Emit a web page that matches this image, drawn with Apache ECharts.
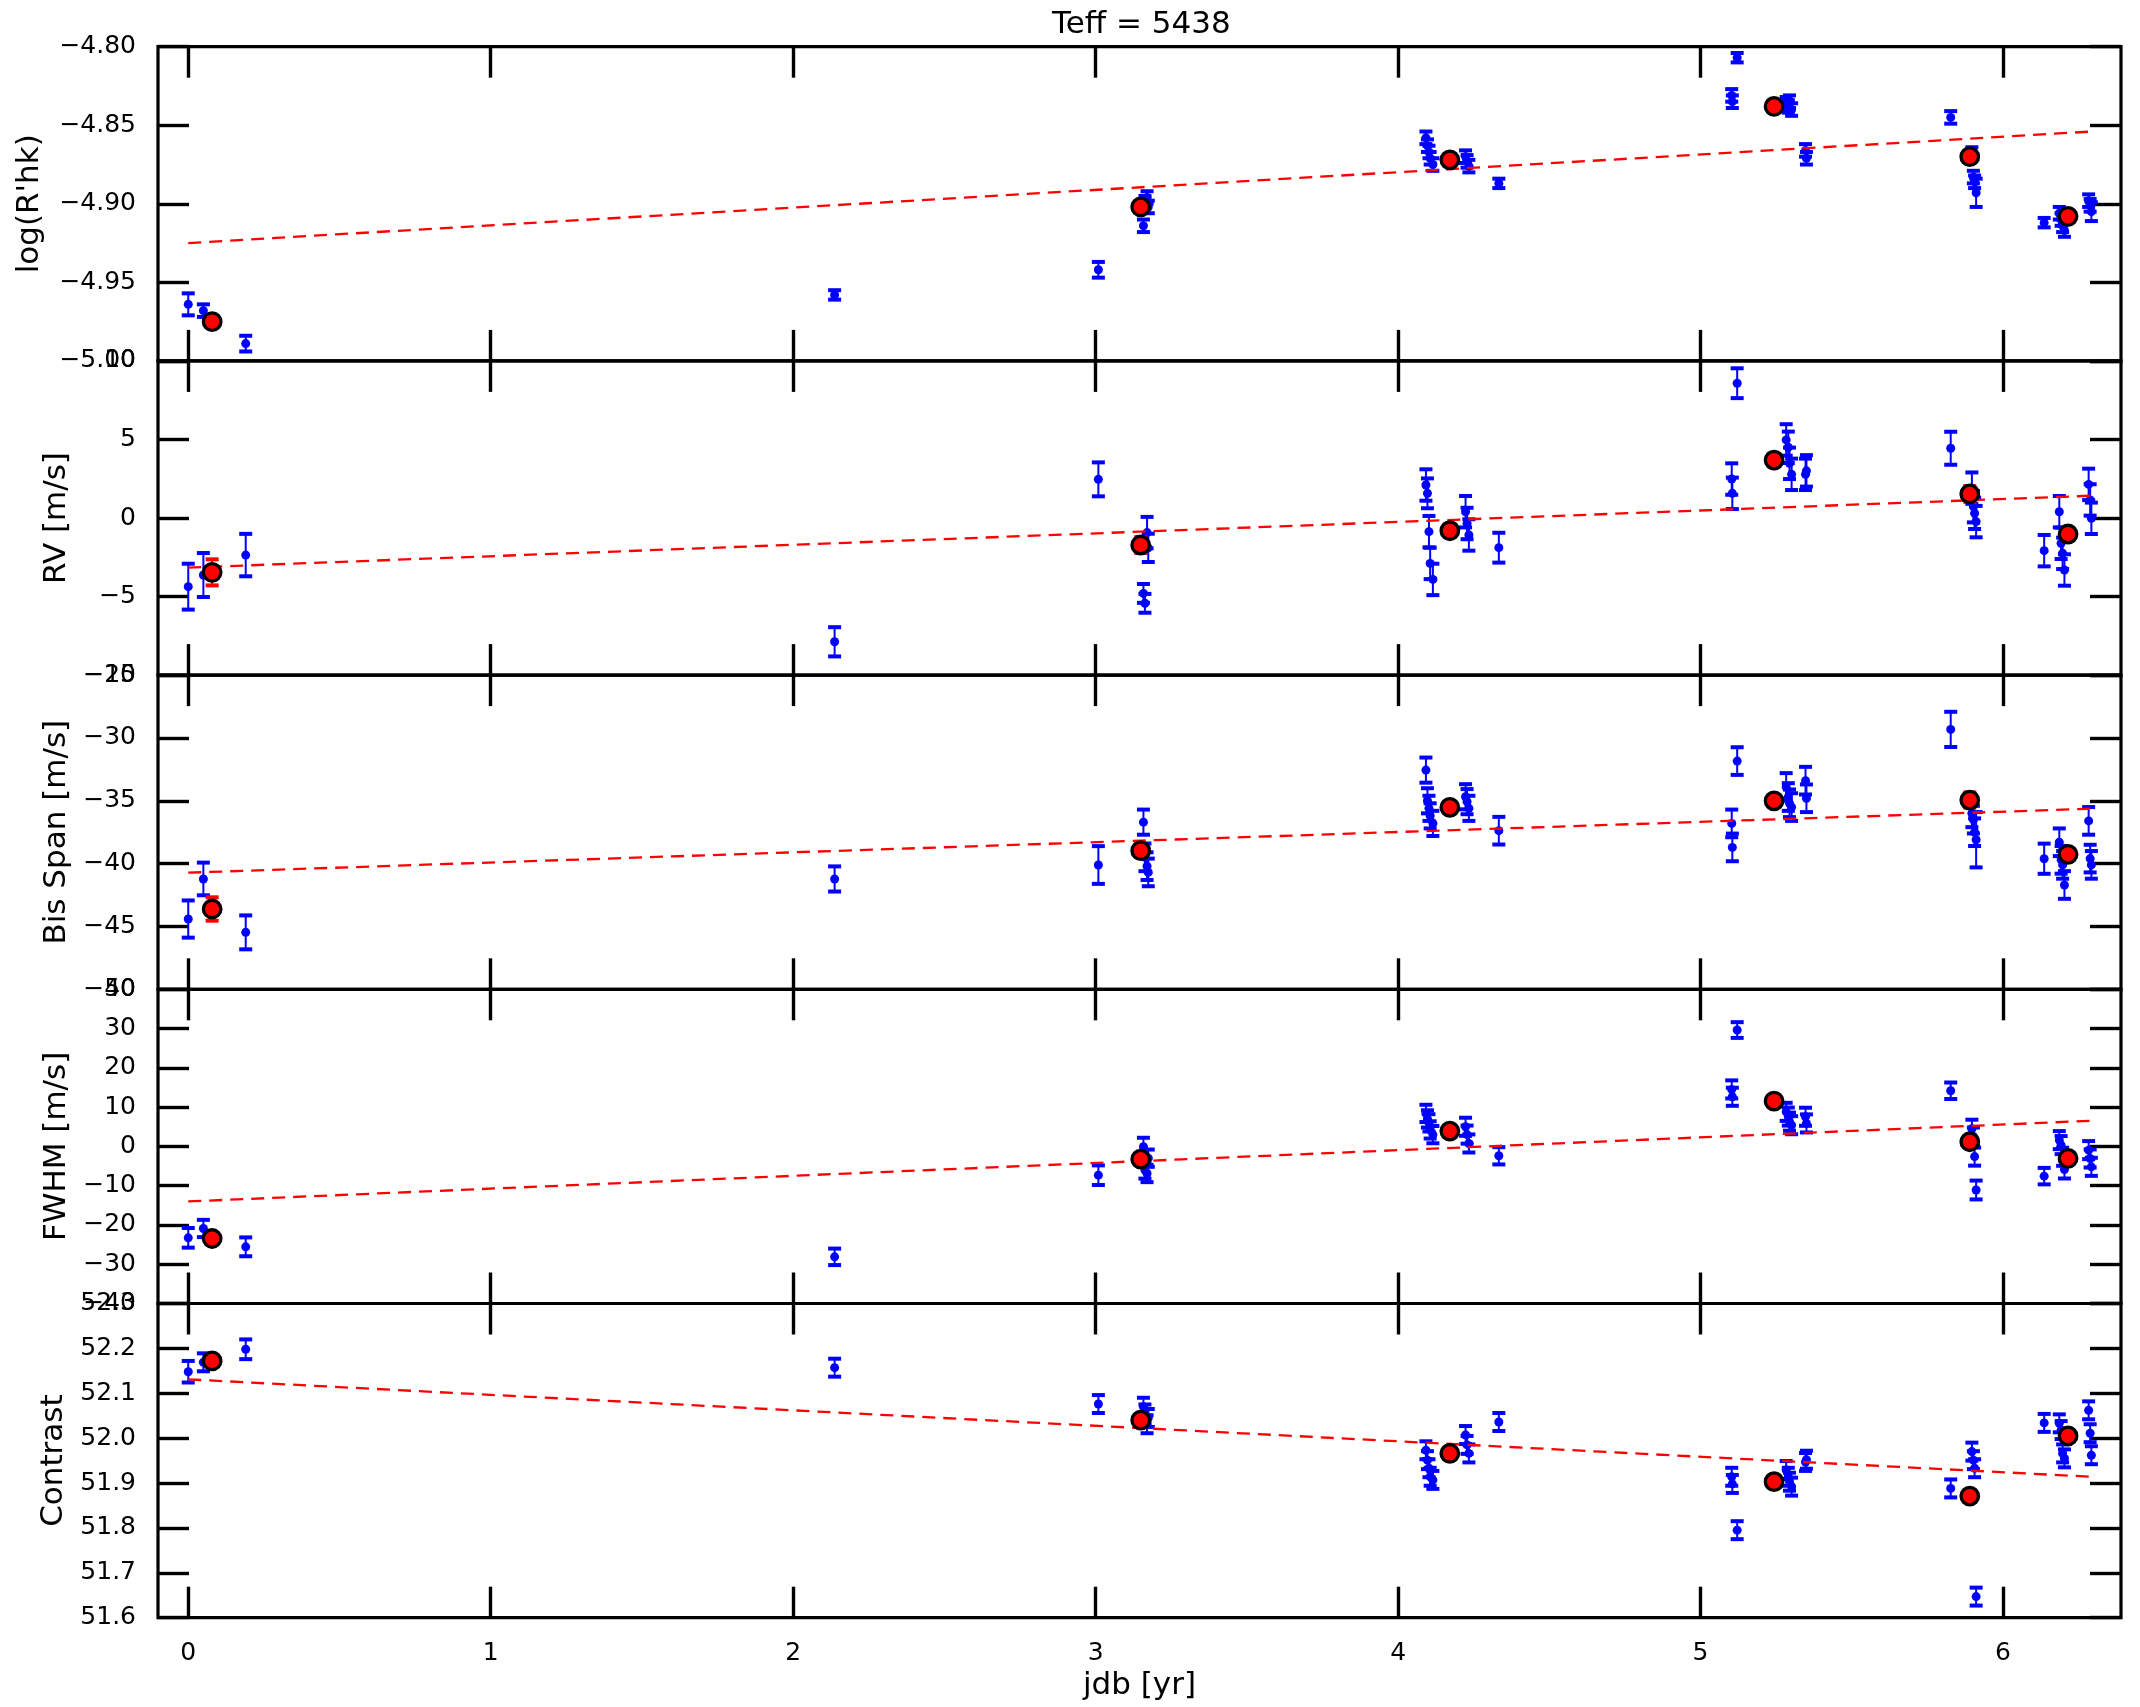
<!DOCTYPE html>
<html><head><meta charset="utf-8">
<script src="https://cdn.jsdelivr.net/npm/echarts@6/dist/echarts.min.js"></script>
<style>html,body{margin:0;padding:0;background:#fff}#c{width:2140px;height:1707px}</style>
</head><body><div id="c"></div>
<script>
const titleText = 'Teff = 5438';
const xLabel = 'jdb [yr]';
const yLabels = ["log(R'hk)", 'RV [m/s]', 'Bis Span [m/s]', 'FWHM [m/s]', 'Contrast'];
const xTicks = [0, 1, 2, 3, 4, 5, 6];

const times = [0.000, 0.050, 0.190, 2.137, 3.009, 3.158, 3.163, 3.170, 3.174, 4.092, 4.097, 4.102, 4.106, 4.115, 4.223, 4.228, 4.234, 4.333, 5.103, 5.105, 5.121, 5.283, 5.290, 5.294, 5.301, 5.347, 5.350, 5.827, 5.897, 5.902, 5.906, 5.911, 6.136, 6.186, 6.192, 6.197, 6.203, 6.283, 6.288, 6.292];
const binTimes = [0.079, 3.149, 4.171, 5.243, 5.890, 6.215];
const trendTimes = [0, 6.292];

// log(R'hk)
const rhkTicks = [-5.00, -4.95, -4.90, -4.85, -4.80];
const rhk = [-4.964, -4.968, -4.989, -4.958, -4.942, -4.914, -4.899, -4.896, -4.902, -4.858, -4.863, -4.867, -4.871, -4.875, -4.870, -4.873, -4.876, -4.887, -4.831, -4.835, -4.807, -4.836, -4.838, -4.835, -4.840, -4.866, -4.871, -4.845, -4.868, -4.883, -4.886, -4.893, -4.912, -4.906, -4.910, -4.914, -4.917, -4.898, -4.901, -4.905];
const rhkErr = [0.007, 0.004, 0.005, 0.003, 0.005, 0.004, 0.004, 0.004, 0.004, 0.004, 0.004, 0.004, 0.004, 0.004, 0.004, 0.004, 0.004, 0.003, 0.004, 0.004, 0.003, 0.004, 0.004, 0.004, 0.004, 0.004, 0.004, 0.004, 0.004, 0.004, 0.004, 0.009, 0.003, 0.004, 0.004, 0.004, 0.004, 0.004, 0.004, 0.006];
const rhkBin = [-4.975, -4.902, -4.872, -4.838, -4.870, -4.908];
const rhkBinErr = [0.003, 0.002, 0.002, 0.002, 0.002, 0.002];
const rhkTrend = [-4.925, -4.854];

// RV
const rvTicks = [-10, -5, 0, 5, 10];
const rv = [-4.37, -3.63, -2.36, -7.88, 2.46, -4.80, -5.43, -0.93, -1.90, 2.10, 1.57, -0.87, -2.89, -3.91, 0.40, -0.35, -1.08, -1.89, 2.48, 1.57, 8.58, 4.97, 4.50, 3.48, 2.78, 2.78, 3.00, 4.44, 1.90, 0.72, 0.30, -0.23, -2.08, 0.40, -1.61, -2.25, -3.31, 2.14, 1.15, -0.02];
const rvErr = [1.46, 1.40, 1.35, 0.93, 1.08, 0.60, 0.60, 1.00, 0.90, 1.00, 0.95, 1.00, 1.00, 1.00, 1.00, 1.00, 1.00, 0.95, 1.00, 1.00, 0.95, 1.00, 1.00, 1.00, 1.00, 1.00, 1.00, 1.05, 1.00, 1.00, 1.00, 1.00, 1.00, 1.00, 1.00, 1.00, 1.00, 1.00, 1.00, 1.00];
const rvBin = [-3.46, -1.72, -0.81, 3.69, 1.53, -1.02];
const rvBinErr = [0.83, 0.5, 0.4, 0.4, 0.5, 0.4];
const rvTrend = [-3.16, 1.42];

// Bisector span
const bisTicks = [-50, -45, -40, -35, -30, -25];
const bis = [-44.41, -41.22, -45.47, -41.22, -40.11, -36.70, -39.50, -40.20, -40.70, -32.56, -35.00, -35.60, -36.20, -36.80, -34.68, -35.07, -35.60, -37.38, -36.80, -38.71, -31.84, -33.90, -34.70, -35.20, -35.50, -33.40, -34.80, -29.32, -36.00, -36.50, -37.50, -38.10, -39.61, -38.30, -39.70, -40.10, -41.70, -36.60, -39.60, -40.10];
const bisErr = [1.48, 1.30, 1.35, 1.00, 1.50, 1.00, 1.10, 1.10, 1.10, 1.00, 1.00, 1.00, 1.00, 1.00, 1.00, 1.00, 1.00, 1.10, 1.10, 1.10, 1.10, 1.10, 1.10, 1.10, 1.10, 1.10, 1.10, 1.40, 1.10, 1.10, 1.10, 2.20, 1.20, 1.10, 1.10, 1.10, 1.10, 1.10, 1.10, 1.10];
const bisBin = [-43.61, -38.97, -35.52, -35.00, -34.94, -39.26];
const bisBinErr = [0.93, 0.5, 0.4, 0.4, 0.6, 0.4];
const bisTrend = [-40.72, -35.63];

// FWHM
const fwhmTicks = [-40, -30, -20, -10, 0, 10, 20, 30, 40];
const fwhm = [-23.28, -20.90, -25.57, -28.12, -7.33, -0.10, -6.00, -6.90, -3.00, 8.40, 7.00, 6.00, 4.20, 3.00, 5.00, 3.00, 0.75, -2.39, 14.51, 12.64, 29.63, 8.80, 7.60, 6.30, 5.40, 7.55, 5.85, 14.17, 4.50, 2.50, -2.60, -11.10, -7.57, 1.60, 0.33, -2.64, -5.87, -0.95, -3.07, -5.20];
const fwhmErr = [2.5, 2.2, 2.4, 2.1, 2.5, 2.3, 2.2, 2.2, 2.2, 2.2, 2.2, 2.2, 2.2, 2.2, 2.3, 2.3, 2.3, 2.2, 2.3, 2.3, 2.0, 2.3, 2.3, 2.3, 2.3, 2.3, 2.3, 2.1, 2.3, 2.3, 2.3, 2.4, 2.1, 2.3, 2.3, 2.3, 2.3, 2.3, 2.3, 2.3];
const fwhmBin = [-23.45, -3.25, 3.90, 11.54, 1.18, -3.07];
const fwhmBinErr = [1.2, 1.0, 0.8, 0.8, 1.0, 0.8];
const fwhmTrend = [-14.02, 6.53];

// Contrast
const conTicks = [51.6, 51.7, 51.8, 51.9, 52.0, 52.1, 52.2, 52.3];
const con = [52.148, 52.169, 52.198, 52.157, 52.076, 52.070, 52.055, 52.031, 52.045, 51.973, 51.951, 51.933, 51.914, 51.907, 52.007, 51.985, 51.966, 52.036, 51.914, 51.898, 51.795, 51.929, 51.914, 51.903, 51.892, 51.947, 51.952, 51.888, 51.970, 51.951, 51.933, 51.647, 52.034, 52.033, 52.018, 51.966, 51.955, 52.062, 52.011, 51.962];
const conErr = [0.024, 0.020, 0.022, 0.020, 0.020, 0.020, 0.020, 0.020, 0.020, 0.020, 0.020, 0.020, 0.020, 0.020, 0.020, 0.020, 0.020, 0.020, 0.020, 0.020, 0.020, 0.020, 0.020, 0.020, 0.020, 0.020, 0.020, 0.020, 0.020, 0.020, 0.020, 0.020, 0.020, 0.020, 0.020, 0.020, 0.020, 0.020, 0.020, 0.020];
const conBin = [52.172, 52.040, 51.966, 51.903, 51.871, 52.005];
const conBinErr = [0.008, 0.006, 0.005, 0.005, 0.006, 0.005];
const conTrend = [52.131, 51.914];

const panels = [
  {ticks: rhkTicks, vals: rhk, err: rhkErr, bin: rhkBin, binErr: rhkBinErr, trend: rhkTrend, dec: 2, gap: 113},
  {ticks: rvTicks, vals: rv, err: rvErr, bin: rvBin, binErr: rvBinErr, trend: rvTrend, dec: 0, gap: 86},
  {ticks: bisTicks, vals: bis, err: bisErr, bin: bisBin, binErr: bisBinErr, trend: bisTrend, dec: 0, gap: 86},
  {ticks: fwhmTicks, vals: fwhm, err: fwhmErr, bin: fwhmBin, binErr: fwhmBinErr, trend: fwhmTrend, dec: 0, gap: 86},
  {ticks: conTicks, vals: con, err: conErr, bin: conBin, binErr: conBinErr, trend: conTrend, dec: 1, gap: 86}
];

const FONT = 'DejaVu Sans';
const gridTop = 46.7, gridH = 314.2, gridLeft = 158, gridRight = 19;
const X_MIN = -0.1, X_MAX = 6.39;

function fmt(v, dec) {
  const s = Math.abs(v).toFixed(dec);
  return (v < 0 && parseFloat(s) !== 0 ? '\u2212' : '') + s;
}

function errRenderer(color) {
  return function (params, api) {
    const x = api.value(0), y = api.value(1), e = api.value(2);
    const a = api.coord([x, y + e]);
    const b = api.coord([x, y - e]);
    const hw = 6.5;
    return {
      type: 'group',
      children: [
        {type: 'line', shape: {x1: a[0], y1: a[1], x2: b[0], y2: b[1]}, style: {stroke: color, lineWidth: 2}},
        {type: 'line', shape: {x1: a[0] - hw, y1: a[1], x2: a[0] + hw, y2: a[1]}, style: {stroke: color, lineWidth: 4}},
        {type: 'line', shape: {x1: b[0] - hw, y1: b[1], x2: b[0] + hw, y2: b[1]}, style: {stroke: color, lineWidth: 4}}
      ]
    };
  };
}

const grids = [], xAxes = [], yAxes = [], series = [];
panels.forEach((p, i) => {
  grids.push({left: gridLeft, right: gridRight, top: gridTop + i * gridH, height: gridH,
    containLabel: false, outerBoundsMode: 'none',
    show: true, borderColor: '#000', borderWidth: 3.2, backgroundColor: 'transparent'});
  const tickStyle = {show: true, inside: true, length: 31, lineStyle: {color: '#000', width: 3.4}};
  ['bottom', 'top'].forEach((pos, k) => {
    const main = (i === 4 && k === 0);
    xAxes.push({
      gridIndex: i, type: 'value', min: X_MIN, max: X_MAX, position: pos,
      axisLine: {show: false, onZero: false}, splitLine: {show: false},
      axisTick: Object.assign({customValues: xTicks}, tickStyle),
      axisLabel: {show: true, customValues: xTicks, fontSize: main ? 25 : 1, margin: main ? 23 : 0, color: '#000', fontFamily: FONT,
        formatter: v => main ? fmt(v, 0) : ''},
      name: main ? xLabel : '',
      nameLocation: 'middle', nameGap: 53,
      nameTextStyle: {fontSize: 31, color: '#000', fontFamily: FONT}
    });
  });
  const lo = p.ticks[0], hi = p.ticks[p.ticks.length - 1];
  const step = Math.round((p.ticks[1] - p.ticks[0]) * 1e6) / 1e6;
  ['left', 'right'].forEach((pos, k) => {
    yAxes.push({
      gridIndex: i, type: 'value', min: lo, max: hi, interval: step, position: pos,
      axisLine: {show: false, onZero: false}, splitLine: {show: false},
      axisTick: Object.assign({}, tickStyle),
      axisLabel: {show: true, showMinLabel: true, showMaxLabel: true, fontSize: k === 0 ? 25 : 1, margin: k === 0 ? 22 : 0,
        color: '#000', fontFamily: FONT,
        formatter: v => k === 0 ? fmt(v, p.dec) : ''},
      name: k === 0 ? yLabels[i] : '',
      nameLocation: 'middle', nameGap: p.gap,
      nameTextStyle: {fontSize: 31, color: '#000', fontFamily: FONT}
    });
  });
  const xi = 2 * i, yi = 2 * i;
  const blue = times.map((t, j) => [t, p.vals[j], p.err[j]]);
  const red = binTimes.map((t, j) => [t, p.bin[j], p.binErr[j]]);
  series.push({type: 'custom', xAxisIndex: xi, yAxisIndex: yi, renderItem: errRenderer('#0000ff'), data: blue, z: 2, silent: true});
  series.push({type: 'scatter', xAxisIndex: xi, yAxisIndex: yi, data: blue.map(d => [d[0], d[1]]), symbol: 'circle', symbolSize: 9,
    itemStyle: {color: '#0000ff', opacity: 1}, z: 3, silent: true});
  series.push({type: 'line', xAxisIndex: xi, yAxisIndex: yi, data: trendTimes.map((t, j) => [t, p.trend[j]]), symbol: 'none',
    lineStyle: {color: '#ff0000', width: 2.3, type: [13, 8]}, z: 4, silent: true});
  series.push({type: 'custom', xAxisIndex: xi, yAxisIndex: yi, renderItem: errRenderer('#ff0000'), data: red, z: 5, silent: true});
  series.push({type: 'scatter', xAxisIndex: xi, yAxisIndex: yi, data: red.map(d => [d[0], d[1]]), symbol: 'circle', symbolSize: 17.5,
    itemStyle: {color: '#ff0000', borderColor: '#000', borderWidth: 3.3, opacity: 1}, z: 6, silent: true});
});

const chart = echarts.init(document.getElementById('c'), null, {renderer: 'canvas'});
chart.setOption({
  backgroundColor: '#fff',
  animation: false,
  title: {text: titleText, left: 1052, top: 9, padding: 0,
    textStyle: {fontSize: 31, fontWeight: 'normal', color: '#000', fontFamily: FONT}},
  grid: grids, xAxis: xAxes, yAxis: yAxes, series: series
});
</script></body></html>
